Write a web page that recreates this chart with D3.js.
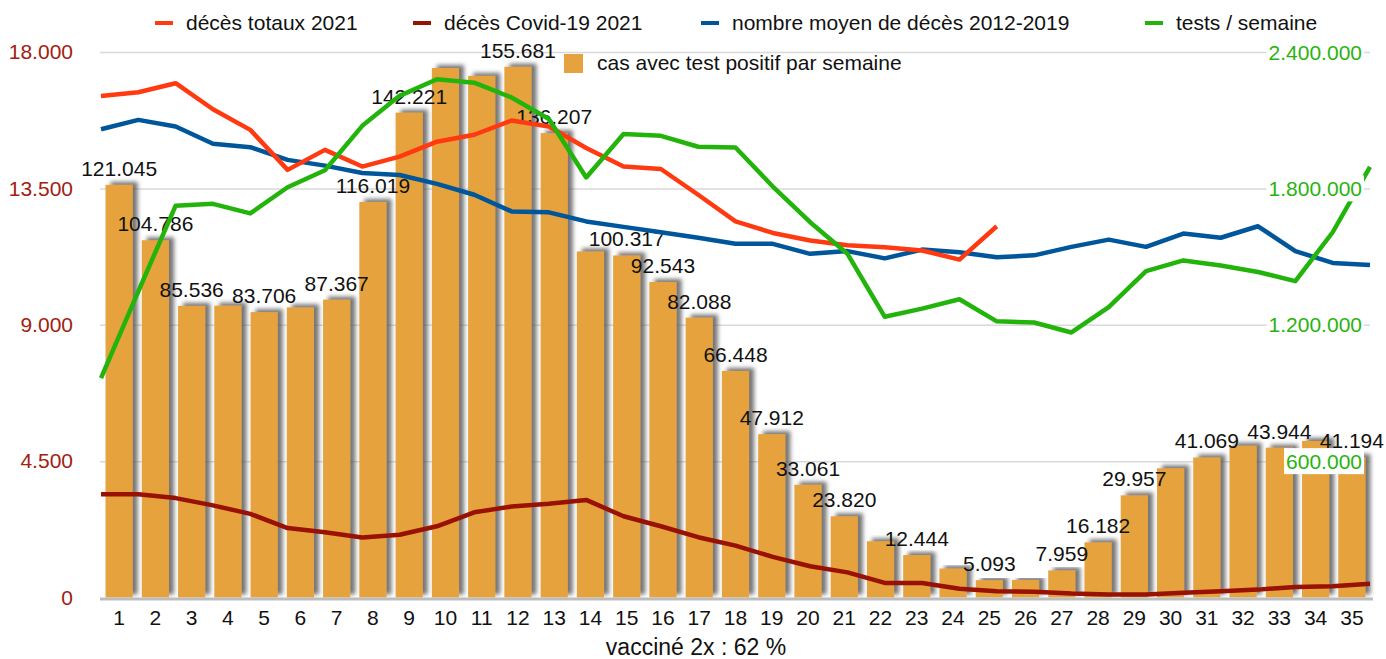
<!DOCTYPE html>
<html>
<head>
<meta charset="utf-8">
<script src="https://cdn.jsdelivr.net/npm/d3@7"></script>
<style>
  body { margin: 0; background: #fff; }
  svg { font-family: "Liberation Sans", Arial, sans-serif; }
</style>
</head>
<body>
<div id="chart"></div>
<script>
// weeks of 2021 (categories)
var weeks = [1,2,3,4,5,6,7,8,9,10,11,12,13,14,15,16,17,18,19,20,21,22,23,24,25,26,27,28,29,30,31,32,33,34,35];

// cases with positive test per week (bars, hidden scale 0..160000)
var cases = [121045,104786,85536,85600,83706,85100,87367,116019,142221,155300,153000,155681,136207,101500,100317,92543,82088,66448,47912,33061,23820,16500,12444,8500,5093,5150,7959,16182,29957,37900,41069,44500,43944,45900,41194];
// weeks whose bar carries a value label
var labelledWeeks = [1,2,3,5,7,8,9,12,13,15,16,17,18,19,20,21,23,25,27,28,29,31,33,35];

// deaths 2021 (left axis)
var totalDeaths = [16550,16670,16970,16110,15430,14110,14770,14220,14550,15040,15270,15740,15540,14830,14220,14140,13290,12410,12030,11780,11620,11560,11450,11150,12250];
var covidDeaths = [3410,3410,3280,3040,2760,2290,2150,1980,2070,2350,2810,3000,3090,3220,2680,2350,1990,1710,1340,1030,830,480,480,290,210,190,130,100,100,160,210,260,350,370,450];
var avgDeaths = [15450,15760,15540,14970,14860,14440,14250,14010,13940,13650,13290,12740,12710,12410,12230,12050,11870,11670,11670,11340,11430,11190,11480,11390,11230,11290,11570,11810,11570,12010,11870,12250,11430,11040,10970];

// tests per week (right axis)
var tests = [965000,1347000,1724000,1732000,1690000,1805000,1880000,2075000,2207000,2280000,2265000,2200000,2105000,1848000,2039000,2031000,1983000,1980000,1808000,1651000,1512000,1235000,1271000,1312000,1215000,1210000,1166000,1278000,1436000,1483000,1461000,1432000,1392000,1607000,1895000];

// axis ticks
var leftTicks = [0, 4500, 9000, 13500, 18000];
var rightTicks = [600000, 1200000, 1800000, 2400000];
var xTitle = "vacciné 2x : 62 %";

// legend entries
var legendNames = ["décès totaux 2021", "décès Covid-19 2021", "nombre moyen de décès 2012-2019", "tests / semaine"];
var legendColors = ["#ff3a10", "#991100", "#00569a", "#23b40c"];
var legendX = [155, 413, 701, 1145];
var barLegendName = "cas avec test positif par semaine";
var barColor = "#e6a23e";

var W = 1386, H = 659;
// plot box (don't call these top/left: window.top is read only)
var plotL = 100, plotR = 1370, plotT = 52, plotB = 597.5;

var fmt = d3.formatLocale({decimal: ",", thousands: ".", grouping: [3], currency: ["", ""]}).format(",d");

var svg = d3.select("#chart").append("svg")
    .attr("width", W).attr("height", H);

// drop shadow like the office chart bars
var defs = svg.append("defs");
defs.append("filter").attr("id", "shadow")
    .attr("x", "-30%").attr("y", "-10%").attr("width", "170%").attr("height", "120%")
  .append("feDropShadow")
    .attr("dx", 5).attr("dy", -3).attr("stdDeviation", 2)
    .attr("flood-color", "#555").attr("flood-opacity", 0.8);

var x = d3.scaleBand().domain(weeks).range([plotL + 1, plotR]).paddingInner(0.25).paddingOuter(0.125);
var xLine = d3.scalePoint().domain(weeks).range([plotL + 1, plotR]);
var yLeft = d3.scaleLinear().domain([0, 18000]).range([plotB, plotT]);
var yRight = d3.scaleLinear().domain([0, 2400000]).range([plotB, plotT]);
var yBars = d3.scaleLinear().domain([0, 160000]).range([plotB, plotT]);

// gridlines
var grid = svg.append("g")
    .attr("transform", "translate(" + plotL + ",0)")
    .call(d3.axisLeft(yLeft).tickValues(leftTicks.slice(1)).tickSize(-(plotR - plotL)).tickFormat(""));
grid.select(".domain").remove();
grid.selectAll("line").attr("stroke", "#d9d9d9").attr("stroke-width", 1.5);

// left axis labels
var ya = svg.append("g")
    .attr("transform", "translate(73,0)")
    .call(d3.axisLeft(yLeft).tickValues(leftTicks).tickSize(0).tickPadding(0).tickFormat(fmt));
ya.select(".domain").remove();
ya.selectAll("text").attr("font-size", 21).attr("fill", "#a2200f").attr("font-family", null);

// bars
svg.append("g").selectAll("rect")
    .data(weeks)
    .enter().append("rect")
    .attr("x", function (d) { return x(d); })
    .attr("width", x.bandwidth())
    .attr("y", function (d, i) { return yBars(cases[i]); })
    .attr("height", function (d, i) { return plotB - yBars(cases[i]); })
    .attr("fill", barColor)
    .attr("filter", "url(#shadow)");

// baseline
svg.append("line")
    .attr("x1", plotL).attr("x2", 1373)
    .attr("y1", plotB + 1.5).attr("y2", plotB + 1.5)
    .attr("stroke", "#bdbdbd").attr("stroke-width", 3);

// bar value labels
svg.append("g").selectAll("text")
    .data(weeks.filter(function (w) { return labelledWeeks.indexOf(w) >= 0; }))
    .enter().append("text")
    .attr("x", function (d) { return x(d) + x.bandwidth() / 2; })
    .attr("y", function (d) { return yBars(cases[d - 1]) - 9; })
    .attr("text-anchor", "middle")
    .attr("font-size", 21)
    .attr("fill", "#111")
    .text(function (d) { return fmt(cases[d - 1]); });

// x axis
var xa = svg.append("g")
    .attr("transform", "translate(0," + plotB + ")")
    .call(d3.axisBottom(x).tickSize(0).tickPadding(13));
xa.select(".domain").remove();
xa.selectAll("text").attr("font-size", 21).attr("fill", "#111").attr("font-family", null);

svg.append("text")
    .attr("x", 696).attr("y", 655)
    .attr("text-anchor", "middle")
    .attr("font-size", 23)
    .attr("fill", "#111")
    .text(xTitle);

// lines
function drawLine(values, scale, color) {
    var line = d3.line()
        .x(function (d, i) { return xLine(weeks[i]); })
        .y(function (d) { return scale(d); });
    svg.append("path")
        .datum(values)
        .attr("d", line)
        .attr("fill", "none")
        .attr("stroke", color)
        .attr("stroke-width", 4.5)
        .attr("stroke-linejoin", "round");
}
drawLine(covidDeaths, yLeft, legendColors[1]);
drawLine(avgDeaths, yLeft, legendColors[2]);
drawLine(totalDeaths, yLeft, legendColors[0]);
drawLine(tests, yRight, legendColors[3]);

// right axis labels, white boxes over the plot
var rt = svg.append("g").selectAll("g")
    .data(rightTicks)
    .enter().append("g")
    .attr("transform", function (d) { return "translate(1362," + yRight(d) + ")"; });
rt.append("rect").attr("fill", "#fff");
rt.append("text")
    .attr("text-anchor", "end")
    .attr("dy", "0.36em")
    .attr("font-size", 21)
    .attr("fill", "#2ab30f")
    .text(function (d) { return fmt(d); });
rt.each(function () {
    var g = d3.select(this);
    var b = g.select("text").node().getBBox();
    g.select("rect").attr("x", b.x - 2).attr("width", b.width + 4).attr("y", -13).attr("height", 26);
});

// legend
var lg = svg.append("g").selectAll("g")
    .data(legendNames)
    .enter().append("g")
    .attr("transform", function (d, i) { return "translate(" + legendX[i] + ",0)"; });
lg.append("line")
    .attr("x1", 0).attr("x2", 18).attr("y1", 23).attr("y2", 23)
    .attr("stroke", function (d, i) { return legendColors[i]; })
    .attr("stroke-width", 4);
lg.append("text")
    .attr("x", 31).attr("y", 30)
    .attr("font-size", 21)
    .attr("fill", "#111")
    .text(function (d) { return d; });

svg.append("rect")
    .attr("x", 564).attr("y", 54).attr("width", 19).attr("height", 19)
    .attr("fill", barColor);
svg.append("text")
    .attr("x", 597).attr("y", 70)
    .attr("font-size", 21)
    .attr("fill", "#111")
    .text(barLegendName);
</script>
</body>
</html>
